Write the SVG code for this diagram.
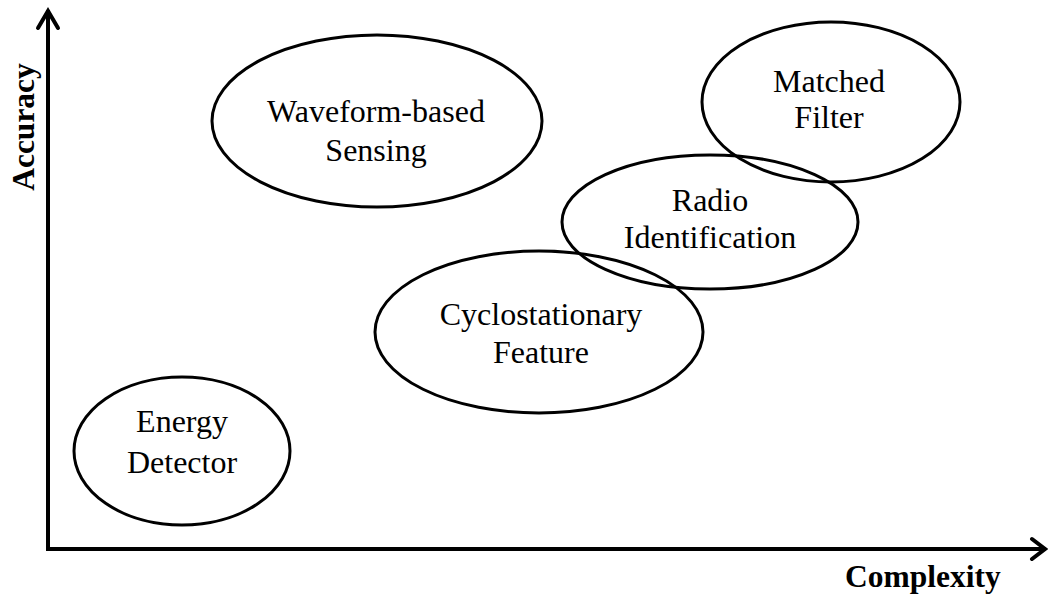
<svg xmlns="http://www.w3.org/2000/svg" width="1048" height="597" viewBox="0 0 1048 597">
  <style>
    .bubble { fill: none; stroke: #000; stroke-width: 3; }
    .label { font-family: "Liberation Serif", "Times New Roman", serif; font-size: 32px; fill: #000; text-anchor: middle; }
    .axis-title { font-family: "Liberation Serif", "Times New Roman", serif; font-size: 31.5px; font-weight: bold; fill: #000; }
    .axis { fill: none; stroke: #000; stroke-width: 4; stroke-linecap: square; stroke-linejoin: miter; }
    .head { fill: none; stroke: #000; stroke-width: 4; stroke-linecap: round; stroke-linejoin: miter; }
  </style>

  <rect width="1048" height="597" fill="#fff"/>

  <!-- Axes -->
  <g id="axes">
    <path class="axis" d="M48 12 V549 H1044"/>
    <path class="head" d="M38 28 L48 11 L58 28"/>
    <path class="head" d="M1032 539 L1045 549 L1032 559"/>
    <text class="axis-title" transform="translate(34 127) rotate(-90)" text-anchor="middle">Accuracy</text>
    <text class="axis-title" x="845" y="587">Complexity</text>
  </g>

  <g id="energy-detector">
    <ellipse class="bubble" cx="182" cy="451" rx="108" ry="74"/>
    <text class="label" x="182" y="432">Energy</text>
    <text class="label" x="182" y="473">Detector</text>
  </g>

  <g id="waveform-based-sensing">
    <ellipse class="bubble" cx="377" cy="121" rx="165" ry="86"/>
    <text class="label" x="376" y="122">Waveform-based</text>
    <text class="label" x="376" y="161">Sensing</text>
  </g>

  <g id="matched-filter">
    <ellipse class="bubble" cx="831" cy="102" rx="129" ry="80"/>
    <text class="label" x="829" y="92">Matched</text>
    <text class="label" x="829" y="128">Filter</text>
  </g>

  <g id="radio-identification">
    <ellipse class="bubble" cx="710" cy="222" rx="148" ry="67"/>
    <text class="label" x="710" y="211">Radio</text>
    <text class="label" x="710" y="248">Identification</text>
  </g>

  <g id="cyclostationary-feature">
    <ellipse class="bubble" cx="539" cy="332" rx="164" ry="81"/>
    <text class="label" x="541" y="325">Cyclostationary</text>
    <text class="label" x="541" y="363">Feature</text>
  </g>
</svg>
